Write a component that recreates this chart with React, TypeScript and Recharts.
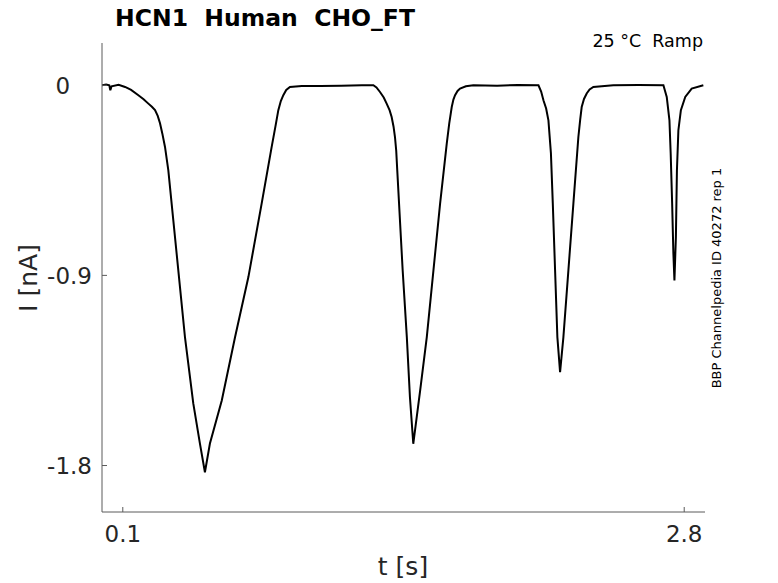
import { LineChart, Line, XAxis, YAxis } from "recharts";

// Ramp protocol trace
const TIME_S = [
  0, 0.02, 0.035, 0.04, 0.046, 0.08, 0.111, 0.14, 0.175, 0.2, 0.223, 0.24,
  0.255, 0.268, 0.279, 0.29, 0.303, 0.319, 0.343, 0.367, 0.399, 0.439, 0.471,
  0.495, 0.519, 0.576, 0.64, 0.704, 0.768, 0.816, 0.835, 0.848, 0.86, 0.872,
  0.886, 0.904, 0.961, 1.05, 1.15, 1.25,
  1.305, 1.32, 1.337, 1.355, 1.369, 1.383, 1.393, 1.402, 1.409, 1.415, 1.42,
  1.433, 1.446, 1.466, 1.481, 1.497, 1.53, 1.562, 1.594, 1.626, 1.658, 1.67,
  1.682, 1.69, 1.698, 1.71, 1.722, 1.75, 1.786, 1.9, 2.0,
  2.099, 2.112, 2.123, 2.136, 2.147, 2.159, 2.168, 2.179, 2.19, 2.203, 2.219,
  2.243, 2.267, 2.291, 2.3, 2.307, 2.318, 2.331, 2.345, 2.363, 2.459, 2.58,
  2.7, 2.716, 2.729, 2.735, 2.742, 2.748, 2.753, 2.76, 2.765, 2.772, 2.784,
  2.805, 2.836, 2.892,
];

const CURRENT_NA = [
  0, 0.003, 0, -0.024, -0.005, 0.002, -0.008, -0.022, -0.047, -0.066, -0.087,
  -0.102, -0.118, -0.145, -0.18, -0.228, -0.292, -0.403, -0.64, -0.876,
  -1.192, -1.506, -1.696, -1.832, -1.696, -1.492, -1.192, -0.908, -0.559,
  -0.292, -0.19, -0.118, -0.075, -0.047, -0.022, -0.008, -0.003, -0.004,
  -0.002, 0,
  0, -0.01, -0.032, -0.058, -0.087, -0.118, -0.15, -0.195, -0.245, -0.31,
  -0.403, -0.64, -0.876, -1.192, -1.477, -1.697, -1.445, -1.192, -0.876,
  -0.56, -0.276, -0.18, -0.103, -0.068, -0.047, -0.027, -0.016, -0.005, 0,
  -0.002, 0.001,
  0, -0.03, -0.071, -0.11, -0.166, -0.322, -0.559, -0.876, -1.192, -1.358,
  -1.192, -0.876, -0.56, -0.245, -0.16, -0.103, -0.065, -0.039, -0.02,
  -0.008, 0, 0.001,
  0, -0.055, -0.166, -0.324, -0.56, -0.797, -0.924, -0.719, -0.403, -0.213,
  -0.118, -0.055, -0.016, 0,
];

const X_TICKS = [0.1, 2.8];
const Y_TICKS = [-1.8, -0.9, 0];

const TITLE = "HCN1  Human  CHO_FT";
const CONDITION = "25 °C  Ramp";
const SOURCE = "BBP Channelpedia ID 40272 rep 1";
const X_LABEL = "t [s]";
const Y_LABEL = "I [nA]";

const data = TIME_S.map((t, i) => ({ t, current: CURRENT_NA[i] }));

const FONT = "'DejaVu Sans', sans-serif";
const AXIS_COLOR = "#5a5a5a";
const TEXT_COLOR = "#262626";

function XTick({ x, y, payload }: any) {
  return (
    <text
      x={x}
      y={y}
      dy="0.72em"
      textAnchor="middle"
      fontSize={23}
      fontFamily={FONT}
      fill={TEXT_COLOR}
    >
      {String(payload.value)}
    </text>
  );
}

// labels are decimal-aligned like the original, so "0" gets padded
function YTick({ x, y, payload }: any) {
  const v = payload.value;
  const label = v === 0 ? "0\u2008\u2007" : String(v);
  return (
    <text
      x={x}
      y={y}
      dy="0.36em"
      textAnchor="end"
      fontSize={23}
      fontFamily={FONT}
      fill={TEXT_COLOR}
      style={{ whiteSpace: "pre" }}
    >
      {label}
    </text>
  );
}

export default function App() {
  return (
    <div
      style={{
        position: "absolute",
        left: 0,
        top: 0,
        width: 778,
        height: 583,
        background: "#fff",
      }}
    >
      <LineChart
        width={778}
        height={583}
        data={data}
        margin={{ top: 43, right: 73, bottom: 0, left: 0 }}
      >
        <XAxis
          dataKey="t"
          type="number"
          domain={[0, 2.9]}
          allowDataOverflow
          ticks={X_TICKS}
          height={71}
          axisLine={{ stroke: AXIS_COLOR }}
          tickLine={{ stroke: AXIS_COLOR }}
          tickSize={-5}
          tickMargin={18}
          tick={<XTick />}
        />
        <YAxis
          type="number"
          domain={[-2.02, 0.2]}
          allowDataOverflow
          ticks={Y_TICKS}
          width={102}
          axisLine={{ stroke: AXIS_COLOR }}
          tickLine={{ stroke: AXIS_COLOR }}
          tickSize={-5}
          tickMargin={15}
          tick={<YTick />}
        />
        <Line
          type="linear"
          dataKey="current"
          stroke="#000"
          strokeWidth={2}
          dot={false}
          isAnimationActive={false}
        />
      </LineChart>
      <svg
        width={778}
        height={583}
        style={{ position: "absolute", left: 0, top: 0, pointerEvents: "none" }}
      >
        <text
          x={265}
          y={26}
          textAnchor="middle"
          fontSize={23.5}
          fontWeight="bold"
          fontFamily={FONT}
          fill="#000"
          style={{ whiteSpace: "pre" }}
        >
          {TITLE}
        </text>
        <text
          x={703}
          y={47}
          textAnchor="end"
          fontSize={17.5}
          fontFamily={FONT}
          fill="#000"
          style={{ whiteSpace: "pre" }}
        >
          {CONDITION}
        </text>
        <text
          x={721}
          y={278}
          transform="rotate(-90 721 278)"
          textAnchor="middle"
          fontSize={13}
          fontFamily={FONT}
          fill="#000"
        >
          {SOURCE}
        </text>
        <text
          x={403}
          y={575}
          textAnchor="middle"
          fontSize={25}
          fontFamily={FONT}
          fill={TEXT_COLOR}
        >
          {X_LABEL}
        </text>
        <text
          x={37}
          y={278}
          transform="rotate(-90 37 278)"
          textAnchor="middle"
          fontSize={25}
          fontFamily={FONT}
          fill={TEXT_COLOR}
        >
          {Y_LABEL}
        </text>
      </svg>
    </div>
  );
}
